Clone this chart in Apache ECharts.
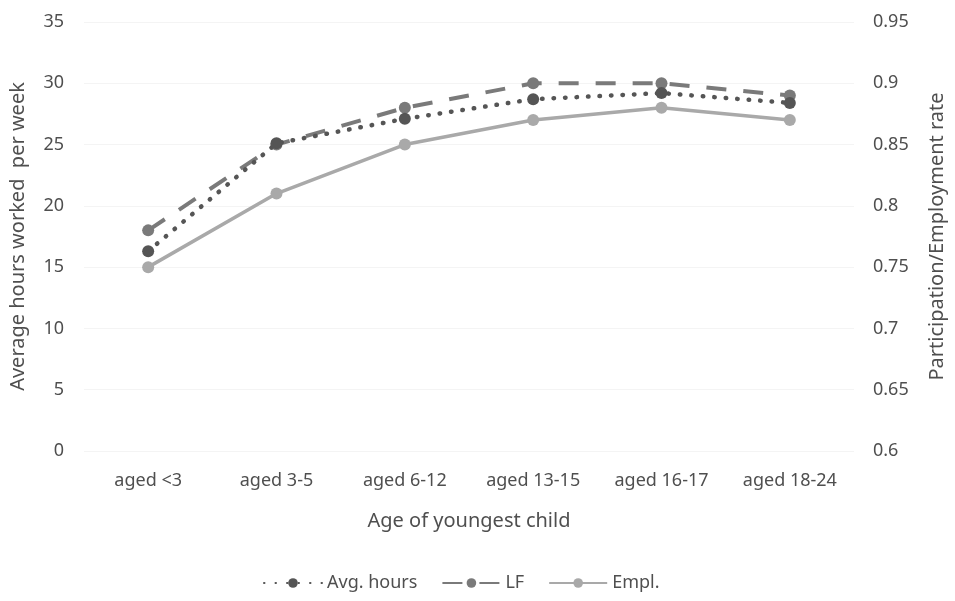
<!DOCTYPE html>
<html>
<head>
<meta charset="utf-8">
<script src="https://cdn.jsdelivr.net/npm/echarts@6/dist/echarts.min.js"></script>
<style>
  html, body { margin: 0; padding: 0; background: #fff; }
  #chart { width: 955px; height: 601px; }
</style>
</head>
<body>
<div id="chart"></div>
<script>
const categories = ['aged <3', 'aged 3-5', 'aged 6-12', 'aged 13-15', 'aged 16-17', 'aged 18-24'];
const avgHours = [16.3, 25.1, 27.1, 28.7, 29.2, 28.4];
const lfRate = [0.78, 0.85, 0.88, 0.90, 0.90, 0.89];
const emplRate = [0.75, 0.81, 0.85, 0.87, 0.88, 0.87];

const FONT = '"Noto Sans", sans-serif';
const TXT = '#4f4f4f';

const option = {
    animation: false,
    textStyle: { fontFamily: FONT },
    grid: { left: 83, right: 101, top: 22, bottom: 150 },
    legend: {
        left: 258,
        top: 569,
        itemWidth: 58,
        itemHeight: 12,
        itemGap: 24,
        textStyle: { color: TXT, fontSize: 18, fontFamily: FONT },
        data: ['Avg. hours', 'LF', 'Empl.']
    },
    xAxis: {
        type: 'category',
        data: categories,
        name: 'Age of youngest child',
        nameLocation: 'middle',
        nameGap: 60,
        nameTextStyle: { color: TXT, fontSize: 20, fontFamily: FONT },
        axisLine: { show: false },
        axisTick: { show: false },
        axisLabel: { color: TXT, fontSize: 18, margin: 21, interval: 0 }
    },
    yAxis: [
        {
            type: 'value',
            min: 0,
            max: 35,
            interval: 5,
            name: 'Average hours worked  per week',
            nameLocation: 'middle',
            nameGap: 56,
            nameTextStyle: { color: TXT, fontSize: 20, fontFamily: FONT },
            axisLine: { show: false },
            axisTick: { show: false },
            axisLabel: { color: TXT, fontSize: 18, margin: 20 },
            splitLine: { lineStyle: { color: '#f4f4f4' } }
        },
        {
            type: 'value',
            min: 0.6,
            max: 0.95,
            interval: 0.05,
            name: 'Participation/Employment rate',
            nameLocation: 'middle',
            nameGap: 73,
            nameRotate: 90,
            nameTextStyle: { color: TXT, fontSize: 20, fontFamily: FONT },
            axisLine: { show: false },
            axisTick: { show: false },
            axisLabel: {
                color: TXT,
                fontSize: 18,
                margin: 19,
                formatter: v => String(Math.round(v * 100) / 100)
            },
            splitLine: { show: false }
        }
    ],
    series: [
        {
            name: 'Avg. hours',
            type: 'line',
            yAxisIndex: 0,
            data: avgHours,
            symbol: 'circle',
            symbolSize: 12,
            color: '#555555',
            lineStyle: { color: '#555555', width: 4.5, type: [0.5, 11], cap: 'round' },
            z: 4
        },
        {
            name: 'LF',
            type: 'line',
            yAxisIndex: 1,
            data: lfRate,
            symbol: 'circle',
            symbolSize: 12,
            color: '#7a7a7a',
            lineStyle: { color: '#7a7a7a', width: 4, type: [20, 17] },
            z: 3
        },
        {
            name: 'Empl.',
            type: 'line',
            yAxisIndex: 1,
            data: emplRate,
            symbol: 'circle',
            symbolSize: 12,
            color: '#a9a9a9',
            lineStyle: { color: '#a9a9a9', width: 3.5 },
            z: 2
        }
    ]
};

const myChart = echarts.init(document.getElementById('chart'));
myChart.setOption(option);
</script>
</body>
</html>
